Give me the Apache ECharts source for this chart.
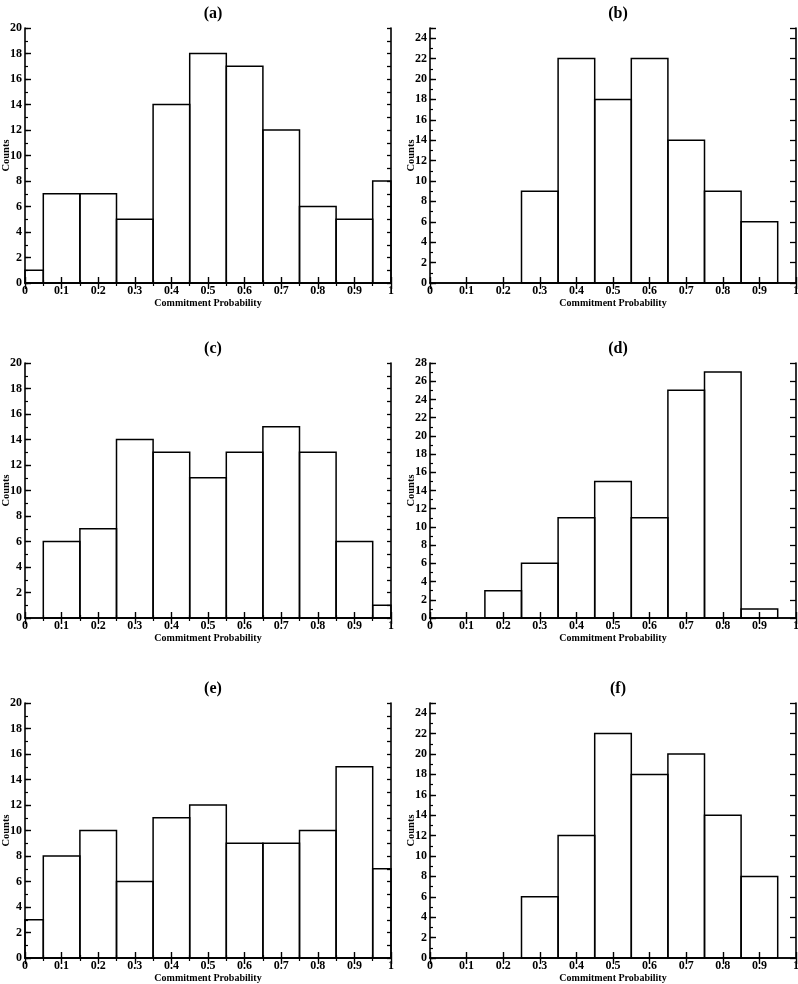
<!DOCTYPE html>
<html><head><meta charset="utf-8">
<script src="https://cdn.jsdelivr.net/npm/echarts@6/dist/echarts.min.js"></script>
<style>html,body{margin:0;padding:0;background:#fff}#c{width:798px;height:984px}</style>
</head><body><div id="c"></div>
<script>
// bin edges (shared by all panels)
const binLeft  = [0, 0.05, 0.15, 0.25, 0.35, 0.45, 0.55, 0.65, 0.75, 0.85, 0.95];
const binRight = [0.05, 0.15, 0.25, 0.35, 0.45, 0.55, 0.65, 0.75, 0.85, 0.95, 1];
const xTicks = [0, 0.1, 0.2, 0.3, 0.4, 0.5, 0.6, 0.7, 0.8, 0.9, 1];
// counts per panel
const countsA = [1, 7, 7, 5, 14, 18, 17, 12, 6, 5, 8];
const countsB = [0, 0, 0, 9, 22, 18, 22, 14, 9, 6, 0];
const countsC = [0, 6, 7, 14, 13, 11, 13, 15, 13, 6, 1];
const countsD = [0, 0, 3, 6, 11, 15, 11, 25, 27, 1, 0];
const countsE = [3, 8, 10, 6, 11, 12, 9, 9, 10, 15, 7];
const countsF = [0, 0, 0, 6, 12, 22, 18, 20, 14, 8, 0];
const panelTitles = ['(a)', '(b)', '(c)', '(d)', '(e)', '(f)'];
const yMaxes = [20, 25, 20, 28, 20, 25];
const allCounts = [countsA, countsB, countsC, countsD, countsE, countsF];

const FONT = 'Liberation Serif';
const lefts = [25, 430];
const tops = [28, 363, 703];
const W = 366, H = 255;

const grids = [], xAxes = [], yAxes = [], series = [], titles = [], graphics = [];
allCounts.forEach((counts, i) => {
  const col = i % 2, row = Math.floor(i / 2);
  const minorAll = col === 0;
  grids.push({left: lefts[col], top: tops[row], width: W, height: H, containLabel: false, outerBoundsMode: 'none'});
  const axLine = {show: true, lineStyle: {color: '#000', width: 1.6}};
  xAxes.push({
    type: 'value', gridIndex: i, min: 0, max: 1, interval: 0.1, position: 'bottom', z: 5,
    axisLine: axLine, splitLine: {show: false},
    axisTick: {inside: true, length: 6, lineStyle: {color: '#000', width: 1.4}},
    minorTick: {show: minorAll, splitNumber: 2, length: 3, lineStyle: {color: '#000', width: 1.2}},
    axisLabel: {color: '#000', fontFamily: FONT, fontWeight: 'bold', fontSize: 12, margin: 2,
      formatter: v => String(+v.toFixed(1))},
    name: 'Commitment Probability', nameLocation: 'middle', nameGap: 15,
    nameTextStyle: {color: '#000', fontFamily: FONT, fontWeight: 'bold', fontSize: 10}
  });
  xAxes.push({
    type: 'value', gridIndex: i, min: 0, max: 1, interval: 0.1, position: 'top', z: 5,
    axisLine: axLine, splitLine: {show: false}, axisLabel: {show: false},
    axisTick: {inside: true, length: 6, lineStyle: {color: '#000', width: 1.4}},
    minorTick: {show: minorAll, splitNumber: 2, length: 3, lineStyle: {color: '#000', width: 1.2}}
  });
  const yMax = yMaxes[i];
  yAxes.push({
    type: 'value', gridIndex: i, min: 0, max: yMax, interval: 2, position: 'left', z: 5,
    axisLine: axLine, splitLine: {show: false},
    axisTick: {inside: true, length: 6, lineStyle: {color: '#000', width: 1.4}},
    axisLabel: {color: '#000', fontFamily: FONT, fontWeight: 'bold', fontSize: 12, margin: 3,
      formatter: v => (v % 2 === 0 ? String(v) : '')}
  });
  // minor ticks (every 1 count) on the left
  yAxes.push({
    type: 'value', gridIndex: i, min: 0, max: yMax, interval: 1, position: 'left', z: 5,
    axisLine: {show: false}, splitLine: {show: false}, axisLabel: {show: false},
    axisTick: {inside: true, length: 3, lineStyle: {color: '#000', width: 1.2}}
  });
  yAxes.push({
    type: 'value', gridIndex: i, min: 0, max: yMax, interval: minorAll ? 1 : 2, position: 'right', z: 5,
    axisLine: axLine, splitLine: {show: false}, axisLabel: {show: false},
    axisTick: {inside: true, length: minorAll ? 4 : 6, lineStyle: {color: '#000', width: 1.3}}
  });
  const data = [];
  counts.forEach((c, k) => { if (c > 0) data.push([binLeft[k], binRight[k], c]); });
  series.push({
    type: 'custom', xAxisIndex: i * 2, yAxisIndex: i * 3, clip: false,
    encode: {x: [0, 1], y: 2},
    renderItem: function (params, api) {
      const p0 = api.coord([api.value(0), api.value(2)]);
      const p1 = api.coord([api.value(1), 0]);
      return {type: 'rect', shape: {x: p0[0], y: p0[1], width: p1[0] - p0[0], height: p1[1] - p0[1]},
        style: {fill: 'none', stroke: '#000', lineWidth: 1.5}};
    },
    data: data, silent: true, z: 1
  });
  titles.push({
    text: panelTitles[i], left: lefts[col] + W / 2, top: tops[row] - 27, textAlign: 'center',
    textStyle: {color: '#000', fontFamily: FONT, fontWeight: 'bold', fontSize: 16}
  });
  graphics.push({
    type: 'text', x: lefts[col] - 19, y: tops[row] + H / 2, rotation: Math.PI / 2,
    style: {text: 'Counts', fill: '#000', font: 'bold 10.5px "Liberation Serif"', align: 'center', verticalAlign: 'middle'}
  });
});

const chart = echarts.init(document.getElementById('c'), null, {renderer: 'canvas'});
chart.setOption({
  animation: false, backgroundColor: '#fff',
  title: titles, grid: grids, xAxis: xAxes, yAxis: yAxes, series: series, graphic: graphics
});
</script></body></html>
